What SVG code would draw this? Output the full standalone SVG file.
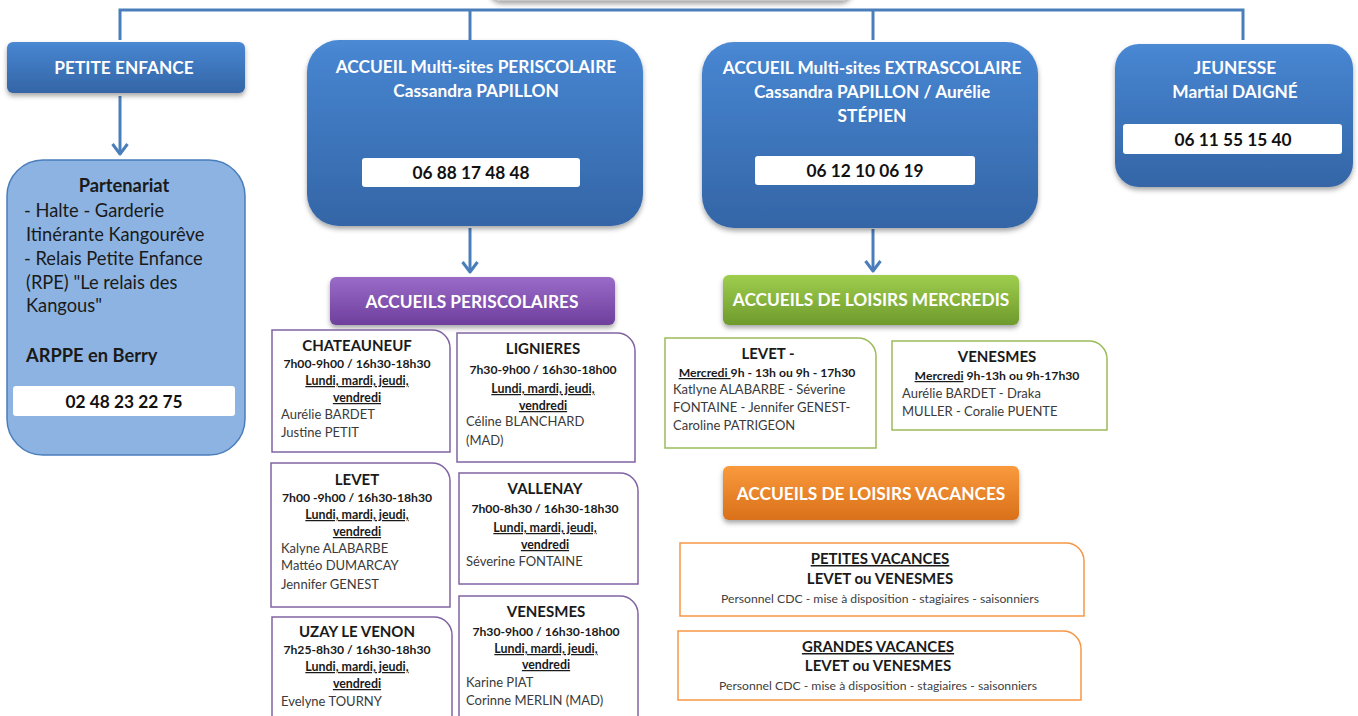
<svg xmlns="http://www.w3.org/2000/svg" width="1358" height="716" viewBox="0 0 1358 716">
<defs>
<linearGradient id="gBlue" x1="0" y1="0" x2="0" y2="1">
<stop offset="0" stop-color="#4D8AD4"/><stop offset="0.08" stop-color="#4684CF"/><stop offset="1" stop-color="#3465A6"/>
</linearGradient>
<linearGradient id="gPurple" x1="0" y1="0" x2="0" y2="1">
<stop offset="0" stop-color="#9A6BC8"/><stop offset="1" stop-color="#6E3F9C"/>
</linearGradient>
<linearGradient id="gGreen" x1="0" y1="0" x2="0" y2="1">
<stop offset="0" stop-color="#9FCE4E"/><stop offset="1" stop-color="#6E9A2C"/>
</linearGradient>
<linearGradient id="gOrange" x1="0" y1="0" x2="0" y2="1">
<stop offset="0" stop-color="#FA9A3C"/><stop offset="1" stop-color="#D9701A"/>
</linearGradient>
<filter id="sh" x="-10%" y="-10%" width="120%" height="130%">
<feDropShadow dx="0" dy="3" stdDeviation="2.5" flood-color="#000" flood-opacity="0.35"/>
</filter>
<marker id="arr" markerWidth="16" markerHeight="20" refX="13" refY="10" orient="auto" markerUnits="userSpaceOnUse" viewBox="0 0 16 20">
<path d="M3,2.5 L13,10 L3,17.5" fill="none" stroke="#4A7EBB" stroke-width="3" stroke-linejoin="round"/>
</marker>
<style>
text{font-family:Lato,"Liberation Sans",sans-serif}
.wt{fill:#fff;font-weight:bold;font-size:17.3px;text-anchor:middle}
.ph{fill:#111;font-weight:bold;font-size:17.3px;text-anchor:middle}
.phbox{fill:#fff}
.pbody{fill:#1a1a1a;font-size:18.3px}
.ct{fill:#1a1a1a;font-weight:bold;font-size:15px;text-anchor:middle}
.cs{fill:#1a1a1a;font-weight:bold;font-size:12.2px;text-anchor:middle}
.cu{fill:#1a1a1a;font-weight:bold;font-size:12.4px;text-anchor:middle;text-decoration:underline}
.cn{fill:#3a3a3a;font-size:13px}
.pc{fill:#fff;stroke:#8064A2;stroke-width:1.5}
.gc{fill:#fff;stroke:#9BBB59;stroke-width:1.5}
.oc{fill:#fff;stroke:#F79646;stroke-width:1.5}
.conn{fill:none;stroke:#4A7EBB;stroke-width:3}
.small{fill:#404040;font-size:12.2px;text-anchor:middle}
</style>
</defs>
<rect width="1358" height="716" fill="#fff"/>

<g id="top-box">
<rect x="490" y="-58" width="362" height="58" rx="12" fill="#fff" stroke="#c8c8c8" stroke-width="2" filter="url(#sh)"/>
</g>

<g id="connectors">
<path class="conn" d="M120,40 V10 H1243 V40"/>
<path class="conn" d="M470,10 V40"/>
<path class="conn" d="M873,10 V40"/>
<path class="conn" d="M120,96 V154" marker-end="url(#arr)"/>
<path class="conn" d="M470,228 V272" marker-end="url(#arr)"/>
<path class="conn" d="M873,229 V271" marker-end="url(#arr)"/>
</g>

<g id="petite-enfance">
<rect x="7" y="42" width="238" height="51" rx="6" fill="url(#gBlue)" filter="url(#sh)"/>
<text class="wt" x="124" y="74">PETITE ENFANCE</text>
</g>

<g id="periscolaire">
<rect x="307" y="40" width="336" height="186" rx="32" fill="url(#gBlue)" filter="url(#sh)"/>
<text class="wt" x="476" y="73">ACCUEIL Multi-sites PERISCOLAIRE</text>
<text class="wt" x="476" y="97">Cassandra PAPILLON</text>
<rect class="phbox" x="362" y="158" width="218" height="29" rx="3"/>
<text class="ph" x="471" y="179">06 88 17 48 48</text>
</g>

<g id="extrascolaire">
<rect x="702" y="42" width="336" height="186" rx="32" fill="url(#gBlue)" filter="url(#sh)"/>
<text class="wt" x="872" y="74">ACCUEIL Multi-sites EXTRASCOLAIRE</text>
<text class="wt" x="872" y="98">Cassandra PAPILLON / Aurélie</text>
<text class="wt" x="872" y="122">STÉPIEN</text>
<rect class="phbox" x="755" y="156" width="220" height="29" rx="3"/>
<text class="ph" x="865" y="177">06 12 10 06 19</text>
</g>

<g id="jeunesse">
<rect x="1115" y="44" width="238" height="143" rx="24" fill="url(#gBlue)" filter="url(#sh)"/>
<text class="wt" x="1235" y="74">JEUNESSE</text>
<text class="wt" x="1235" y="98">Martial DAIGNÉ</text>
<rect class="phbox" x="1123" y="124" width="219" height="30" rx="3"/>
<text class="ph" x="1233" y="146">06 11 55 15 40</text>
</g>

<g id="partenariat">
<rect x="7" y="160" width="238" height="295" rx="36" fill="#8DB3E2" stroke="#4A7EBB" stroke-width="1.5"/>
<text class="pbody" x="124" y="192" font-weight="bold" text-anchor="middle">Partenariat</text>
<text class="pbody" x="24" y="217">- Halte - Garderie</text>
<text class="pbody" x="26" y="241">Itinérante Kangourêve</text>
<text class="pbody" x="24" y="265">- Relais Petite Enfance</text>
<text class="pbody" x="26" y="289">(RPE) "Le relais des</text>
<text class="pbody" x="26" y="312">Kangous"</text>
<text class="pbody" x="26" y="362" font-weight="bold">ARPPE en Berry</text>
<rect class="phbox" x="13" y="386" width="222" height="30" rx="3"/>
<text class="ph" x="124" y="408">02 48 23 22 75</text>
</g>

<g id="hdr-periscolaires">
<rect x="330" y="277" width="285" height="48" rx="6" fill="url(#gPurple)" filter="url(#sh)"/>
<text class="wt" x="472" y="308">ACCUEILS PERISCOLAIRES</text>
</g>

<g id="card-chateauneuf">
<path class="pc" d="M272,330 H432 A18,18 0 0 1 450,348 V452 H272 Z"/>
<text class="ct" x="357" y="351">CHATEAUNEUF</text>
<text class="cs" x="357" y="368">7h00-9h00 / 16h30-18h30</text>
<text class="cu" x="357" y="385">Lundi, mardi, jeudi,</text>
<text class="cu" x="357" y="402">vendredi</text>
<text class="cn" x="281" y="419">Aurélie BARDET</text>
<text class="cn" x="281" y="437">Justine PETIT</text>
</g>

<g id="card-lignieres">
<path class="pc" d="M457,333 H617 A18,18 0 0 1 635,351 V462 H457 Z"/>
<text class="ct" x="543" y="354">LIGNIERES</text>
<text class="cs" x="543" y="374">7h30-9h00 / 16h30-18h00</text>
<text class="cu" x="543" y="393">Lundi, mardi, jeudi,</text>
<text class="cu" x="543" y="410">vendredi</text>
<text class="cn" x="466" y="426">Céline BLANCHARD</text>
<text class="cn" x="466" y="445">(MAD)</text>
</g>

<g id="card-levet">
<path class="pc" d="M271,463 H432 A18,18 0 0 1 450,481 V607 H271 Z"/>
<text class="ct" x="357" y="485">LEVET</text>
<text class="cs" x="357" y="502">7h00 -9h00 / 16h30-18h30</text>
<text class="cu" x="357" y="519">Lundi, mardi, jeudi,</text>
<text class="cu" x="357" y="536">vendredi</text>
<text class="cn" x="281" y="553">Kalyne ALABARBE</text>
<text class="cn" x="281" y="570">Mattéo  DUMARCAY</text>
<text class="cn" x="281" y="589">Jennifer GENEST</text>
</g>

<g id="card-vallenay">
<path class="pc" d="M459,473 H620 A18,18 0 0 1 638,491 V584 H459 Z"/>
<text class="ct" x="545" y="494">VALLENAY</text>
<text class="cs" x="545" y="513">7h00-8h30 / 16h30-18h30</text>
<text class="cu" x="545" y="532">Lundi, mardi, jeudi,</text>
<text class="cu" x="545" y="549">vendredi</text>
<text class="cn" x="466" y="566">Séverine FONTAINE</text>
</g>

<g id="card-uzay">
<path class="pc" d="M272,617 H434 A18,18 0 0 1 452,635 V740 H272 Z"/>
<text class="ct" x="357" y="637">UZAY LE VENON</text>
<text class="cs" x="357" y="654">7h25-8h30 / 16h30-18h30</text>
<text class="cu" x="357" y="671">Lundi, mardi, jeudi,</text>
<text class="cu" x="357" y="688">vendredi</text>
<text class="cn" x="281" y="706">Evelyne TOURNY</text>
</g>

<g id="card-venesmes-p">
<path class="pc" d="M459,596 H620 A18,18 0 0 1 638,614 V740 H459 Z"/>
<text class="ct" x="546" y="617">VENESMES</text>
<text class="cs" x="546" y="636">7h30-9h00 / 16h30-18h00</text>
<text class="cu" x="546" y="653">Lundi, mardi, jeudi,</text>
<text class="cu" x="546" y="669">vendredi</text>
<text class="cn" x="466" y="687">Karine PIAT</text>
<text class="cn" x="466" y="705">Corinne MERLIN (MAD)</text>
</g>

<g id="hdr-mercredis">
<rect x="723" y="275" width="296" height="50" rx="6" fill="url(#gGreen)" filter="url(#sh)"/>
<text class="wt" x="871" y="306">ACCUEILS DE LOISIRS MERCREDIS</text>
</g>

<g id="card-levet-m">
<path class="gc" d="M665,338 H858 A18,18 0 0 1 876,356 V448 H665 Z"/>
<text class="ct" x="768" y="359">LEVET -</text>
<text class="cs" x="767" y="377"><tspan text-decoration="underline">Mercredi </tspan>9h - 13h ou 9h - 17h30</text>
<text class="cn" x="673" y="394">Katlyne ALABARBE - Séverine</text>
<text class="cn" x="673" y="412">FONTAINE - Jennifer GENEST-</text>
<text class="cn" x="673" y="430">Caroline PATRIGEON</text>
</g>

<g id="card-venesmes-m">
<path class="gc" d="M892,341 H1089 A18,18 0 0 1 1107,359 V430 H892 Z"/>
<text class="ct" x="997" y="362">VENESMES</text>
<text class="cs" x="997" y="380"><tspan text-decoration="underline">Mercredi</tspan> 9h-13h ou 9h-17h30</text>
<text class="cn" x="902" y="398">Aurélie BARDET - Draka</text>
<text class="cn" x="902" y="416">MULLER - Coralie PUENTE</text>
</g>

<g id="hdr-vacances">
<rect x="723" y="466" width="296" height="54" rx="6" fill="url(#gOrange)" filter="url(#sh)"/>
<text class="wt" x="871" y="500">ACCUEILS DE LOISIRS VACANCES</text>
</g>

<g id="card-petites">
<path class="oc" d="M680,543 H1066 A18,18 0 0 1 1084,561 V616 H680 Z"/>
<text class="ct" x="880" y="564" text-decoration="underline">PETITES VACANCES</text>
<text class="ct" x="880" y="584">LEVET ou VENESMES</text>
<text class="small" x="880" y="603">Personnel CDC - mise à disposition - stagiaires - saisonniers</text>
</g>

<g id="card-grandes">
<path class="oc" d="M678,631 H1063 A18,18 0 0 1 1081,649 V700 H678 Z"/>
<text class="ct" x="878" y="652" text-decoration="underline">GRANDES VACANCES</text>
<text class="ct" x="878" y="671">LEVET ou VENESMES</text>
<text class="small" x="878" y="690">Personnel CDC - mise à disposition - stagiaires - saisonniers</text>
</g>
</svg>
